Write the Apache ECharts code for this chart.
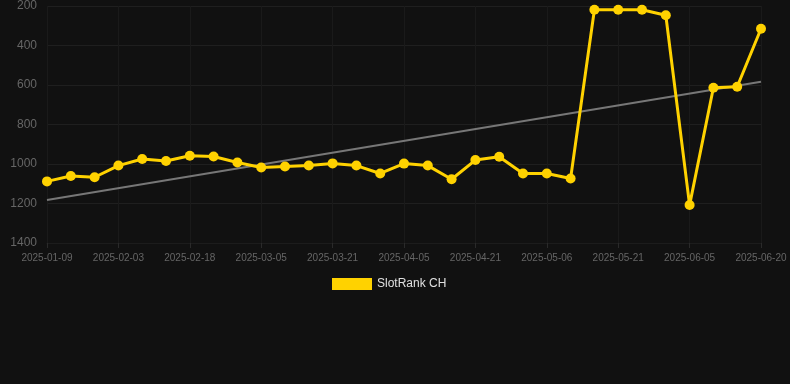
<!DOCTYPE html>
<html><head><meta charset="utf-8">
<script src="https://cdn.jsdelivr.net/npm/echarts@6/dist/echarts.min.js"></script>
<style>html,body{margin:0;padding:0;background:#111111;}#c{width:790px;height:384px;}</style>
</head><body><div id="c"></div>
<script>
var categories = ["2025-01-09","2025-01-17","2025-01-25","2025-02-03","2025-02-08","2025-02-13","2025-02-18","2025-02-23","2025-02-28","2025-03-05","2025-03-10","2025-03-15","2025-03-21","2025-03-26","2025-03-31","2025-04-05","2025-04-10","2025-04-15","2025-04-21","2025-04-26","2025-05-01","2025-05-06","2025-05-11","2025-05-16","2025-05-21","2025-05-26","2025-05-31","2025-06-05","2025-06-10","2025-06-15","2025-06-20"];
var rankValues = [1088,1061,1067,1008,975,985,958,962,992,1018,1013,1008,997,1008,1048,998,1008,1077,980,963,1048,1048,1073,219,219,219,247,1208,614,609,315];
var trendStart = 1182;
var trendEnd = 583;
var yTicks = [200,400,600,800,1000,1200,1400];

var trendData = [[categories[0], trendStart],[categories[categories.length-1], trendEnd]];
var chart = echarts.init(document.getElementById('c'));
chart.setOption({
  backgroundColor: '#111111',
  animation: false,
  grid: {left: 47, right: 29, top: 6, bottom: 141},
  legend: {
    data: ['SlotRank CH'], top: 273, left: 327,
    itemWidth: 40, itemHeight: 12, icon: 'rect', itemGap: 5,
    textStyle: {color: '#e0e0e0', fontSize: 12, fontFamily: 'Arial, Liberation Sans, sans-serif'}
  },
  xAxis: {
    type: 'category', data: categories, boundaryGap: false,
    axisLine: {show: true, lineStyle: {color: '#1c1c1c'}},
    axisTick: {show: true, interval: 2, lineStyle: {color: '#2a2a2a'}},
    axisLabel: {interval: 2, color: '#666', fontSize: 10, margin: 10, fontFamily: 'Arial, Liberation Sans, sans-serif'},
    splitLine: {show: true, interval: 2, lineStyle: {color: '#1a1a1a'}}
  },
  yAxis: {
    type: 'value', inverse: true, min: yTicks[0], max: yTicks[yTicks.length-1], interval: 200,
    axisLine: {show: false}, axisTick: {show: false},
    axisLabel: {color: '#666', fontSize: 12, margin: 10, formatter: function(v){return String(v);}, fontFamily: 'Arial, Liberation Sans, sans-serif'},
    splitLine: {lineStyle: {color: '#1f1f1f'}}
  },
  series: [
    {
      name: 'Trend', type: 'line', data: trendData, symbol: 'none',
      lineStyle: {color: '#777', width: 2}, silent: true, z: 1
    },
    {
      name: 'SlotRank CH', type: 'line', data: rankValues,
      symbol: 'circle', symbolSize: 10,
      itemStyle: {color: '#FFD200'},
      lineStyle: {color: '#FFD200', width: 3}, z: 2
    }
  ]
});
</script></body></html>
